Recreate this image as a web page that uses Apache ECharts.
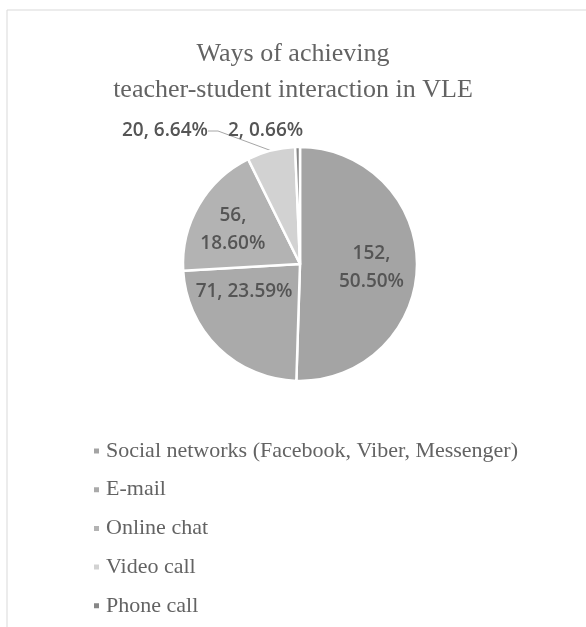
<!DOCTYPE html>
<html>
<head>
<meta charset="utf-8">
<script src="https://cdn.jsdelivr.net/npm/echarts@6/dist/echarts.min.js"></script>
<style>
  html, body { margin: 0; padding: 0; background: #fff; }
  #chart { width: 586px; height: 627px; }
</style>
</head>
<body>
<div id="chart"></div>
<script>
// data
const categories = [
  "Social networks (Facebook, Viber, Messenger)",
  "E-mail",
  "Online chat",
  "Video call",
  "Phone call"
];
const counts = [152, 71, 56, 20, 2];
const sliceColors = ["#a4a4a4", "#aaaaaa", "#b3b3b3", "#d2d2d2", "#878787"];
const titleLines = ["Ways of achieving", "teacher-student interaction in VLE"];

const total = counts.reduce((a, b) => a + b, 0);

const myChart = echarts.init(document.getElementById("chart"));

// nudges for labels, Excel puts them a bit differently than echarts
const labelPlace = {
  0: { dx: 10, dy: 3 },
  1: { dx: -13, dy: -16 },
  2: { dx: -14, dy: -3 },
  3: { x: 208, y: 131, align: "right", verticalAlign: "middle" },
  4: { x: 228, y: 131, align: "left", verticalAlign: "middle" }
};

myChart.setOption({
  animation: false,
  backgroundColor: "#fff",
  color: sliceColors,
  graphic: [
    {
      type: "rect",
      shape: { x: 7, y: 10, width: 640, height: 700 },
      style: { fill: "none", stroke: "#d9d9d9", lineWidth: 1 },
      silent: true
    }
  ],
  title: {
    text: titleLines.join("\n"),
    left: "center",
    top: 31,
    textStyle: {
      fontFamily: "Liberation Serif",
      fontSize: 26,
      fontWeight: "normal",
      lineHeight: 36,
      color: "#636363"
    }
  },
  legend: {
    orient: "vertical",
    left: 92,
    top: 440,
    padding: 0,
    itemWidth: 7,
    itemHeight: 7,
    itemGap: 16.7,
    icon: "rect",
    textStyle: {
      fontFamily: "Liberation Serif",
      fontSize: 22,
      lineHeight: 20,
      color: "#636363",
      padding: [0, 0, 0, 1]
    },
    data: categories
  },
  series: [
    {
      name: "Ways",
      type: "pie",
      center: [300, 264],
      radius: 117,
      startAngle: 90,
      clockwise: true,
      avoidLabelOverlap: false,
      itemStyle: {
        borderColor: "#ffffff",
        borderWidth: 2.5
      },
      label: {
        show: true,
        position: "inside",
        fontFamily: "Open Sans",
        fontSize: 19,
        fontWeight: 600,
        lineHeight: 28,
        color: "#555555",
        formatter: function(p) {
          let sep = p.dataIndex === 0 || p.dataIndex === 2 ? ",\n" : ", ";
          return p.value + sep + (p.value / total * 100).toFixed(2) + "%";
        }
      },
      labelLine: {
        show: true,
        length: 10,
        length2: 10,
        lineStyle: { color: "#a6a6a6", width: 1 }
      },
      labelLayout: function(params) {
        return labelPlace[params.dataIndex] || {};
      },
      data: categories.map((name, i) => {
        let item = { name: name, value: counts[i] };
        if (i >= 3) {
          item.label = { position: "outside" };
          item.labelLine = { show: i === 3 };
        }
        return item;
      })
    }
  ]
});
</script>
</body>
</html>
